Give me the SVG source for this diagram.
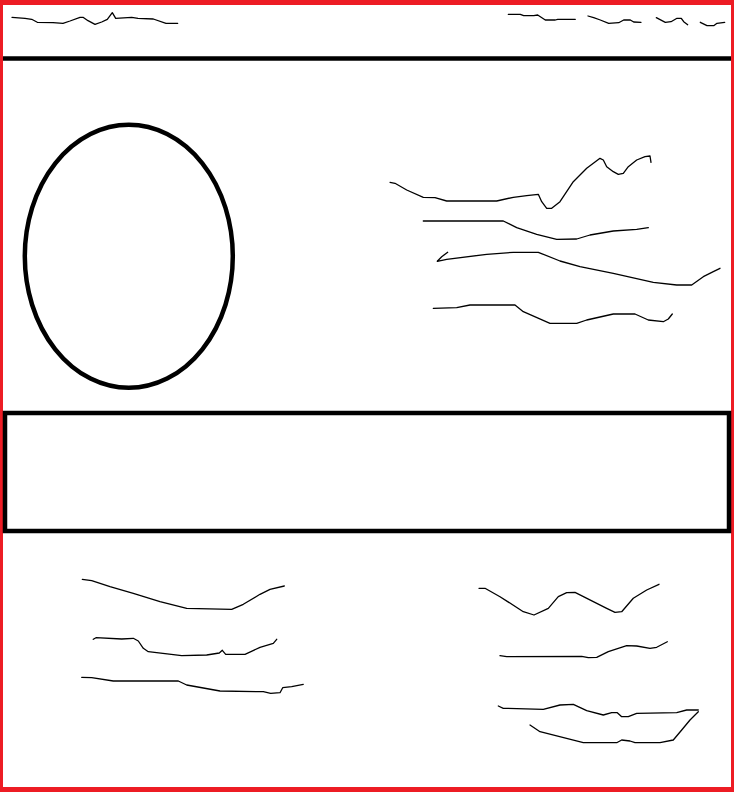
<svg xmlns="http://www.w3.org/2000/svg" width="734" height="792" viewBox="0 0 734 792">
<style>
.frame{fill:none;stroke:#ed1c24;}
.thick{fill:none;stroke:#000;stroke-width:4.5;}
.sk{fill:none;stroke:#000;stroke-width:1.3;stroke-linejoin:round;stroke-linecap:round;}
</style>
<rect x="0" y="0" width="734" height="792" fill="#fff"/>
<g id="frame">
<rect x="0" y="0" width="734" height="5" fill="#ed1c24"/>
<rect x="0" y="787" width="734" height="5" fill="#ed1c24"/>
<rect x="0" y="0" width="3" height="792" fill="#ed1c24"/>
<rect x="731" y="0" width="3" height="792" fill="#ed1c24"/>
</g>
<g id="header">
<line class="thick" x1="3" y1="58.5" x2="731" y2="58.5"/>
<polyline class="sk" points="12,17.3 25,18.3 31.7,19.3 37.3,22.3 53,22.7 63,23.3 70,21 80,17.3 83,17.3 88,20.7 95,24.3 101.7,22 107.3,19.3 112.3,12.7 115.7,18.3 131.7,17.3 138,18.3 153.3,19 166,23.3 177.7,23.3"/>
<polyline class="sk" points="508.3,14.3 520.3,14.3 523.7,15.7 533.7,15.7 537.7,15 545.3,20 555.3,20 557.7,19.3 575.3,19.3"/>
<polyline class="sk" points="588,16 593.7,17.7 600.3,20 608.7,23.3 618.7,22.7 623.7,20 630.3,20 633.7,22 641,22.3"/>
<polyline class="sk" points="656.3,17.7 665.3,22.3 671,21.7 677,18.3 681.3,18.3 683.7,21.7 687.7,24.7"/>
<polyline class="sk" points="700.3,22.3 707,25.7 713.7,25.7 717,23.3 724.7,22.3"/>
</g>
<g id="image">
<ellipse class="thick" cx="128.8" cy="256.3" rx="104" ry="131.5" stroke-width="4"/>
</g>
<g id="text-right">
<polyline class="sk" points="390,182.3 395,183.3 406.7,190 423.3,197.3 435,197.7 446.7,201 496.7,201 513.3,197.3 526.7,195.7 538.3,194.3 541.7,201.7 546.7,208.3 551.7,208.3 560,201.7 573.3,181.7 586.7,168.3 600,158.3 603.3,160 606.7,166.7 613.3,171.7 618.3,174.3 623.3,173.3 628.3,166.7 636.7,160 645,156.7 650,156 651,162.3"/>
<polyline class="sk" points="423.3,221 503.3,221 516.7,227.7 536.7,234.3 556.7,239.3 576.7,239 590,235 613.3,231 636.7,229.3 648.3,227.7"/>
<polyline class="sk" points="447.7,252.3 441.7,256.7 437.3,261.3 446.7,259.3 486.7,254.3 513.3,252.3 538.3,252.3 560,261 580,266.7 613.3,273.3 653.3,282.3 676.7,285 691.7,285 703.3,276.7 713.3,271.7 720,268.3"/>
<polyline class="sk" points="433.3,308.3 456.7,307.7 470,305 515,305 523.3,311.7 550,323.3 576.7,323.3 586.7,320 613.3,314 635,314 648.3,320 663.3,321.7 668.3,319 672.3,314"/>
</g>
<g id="banner">
<rect class="thick" x="5" y="413" width="724" height="118" stroke-width="4"/>
</g>
<g id="text-bottom-left">
<polyline class="sk" points="82.3,579.3 91.7,580.7 110,586.7 133.3,593.3 160,601.7 186.7,608.3 231.7,609.3 243.3,604.3 260,594.3 270,589.3 284.3,586"/>
<polyline class="sk" points="93.3,639.3 96,637.7 121.7,639 133.3,638.3 138.3,641 143.3,648.3 148.3,651.7 181.7,655.7 206.7,655 219.3,653 222.3,650.3 225.7,654.3 245,654.3 260,647.3 273.3,643.3 276.7,639.3"/>
<polyline class="sk" points="81.7,677.3 91.7,677.7 113.3,681 178.3,681 186.7,685 220,691 263.3,691.7 270.7,693.3 280,692.7 282.7,687.7 291.7,686.7 303.3,684.3"/>
</g>
<g id="text-bottom-right">
<polyline class="sk" points="479,588.3 485,588.3 500,596.7 523.3,611.7 534,615 548.3,608.3 558.3,596.7 566.7,592.7 575,592.3 606.7,608.3 615,612.3 621.7,611.7 633.3,598.3 646.7,590 659,584.3"/>
<polyline class="sk" points="500,655.7 506.7,656.7 581.7,656.3 588.3,657.7 596.7,657.3 608.3,651.7 626.7,645.7 636.7,646 650,648.3 656.7,647.3 667.3,641.7"/>
<polyline class="sk" points="498.3,706 503.3,708.3 543.3,709.3 560,705 573.3,704.3 586.7,710.7 603.3,715 611.7,712.7 617.3,712.7 621.7,716.7 628.3,716.7 636.7,713.3 676.7,712.7 686.7,710 698.3,710"/>
<polyline class="sk" points="698.3,711.7 690,720 681.7,730 673.3,740 660,742.7 635,742.7 630,741 621.7,740 616.7,742.7 583.3,742.7 540,731.7 530,725"/>
</g>
</svg>
